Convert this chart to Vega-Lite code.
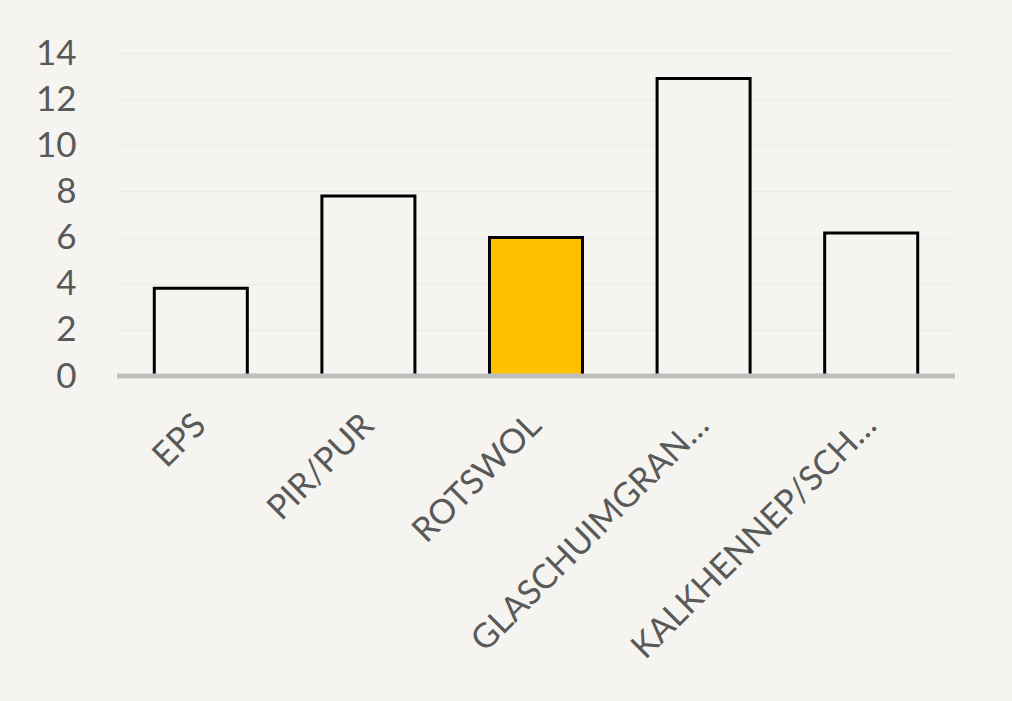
{
  "$schema": "https://vega.github.io/schema/vega-lite/v6.json",
  "autosize": {"type": "none"},
  "padding": {"left": 117, "top": 53, "right": 57, "bottom": 325},
  "width": 838,
  "height": 323,
  "background": "#f5f4f0",
  "data": {
    "values": [
      {"material": "EPS", "value": 3.8, "highlight": "no"},
      {"material": "PIR/PUR", "value": 7.8, "highlight": "no"},
      {"material": "ROTSWOL", "value": 6.0, "highlight": "yes"},
      {"material": "GLASCHUIMGRAN…", "value": 12.9, "highlight": "no"},
      {"material": "KALKHENNEP/SCH…", "value": 6.2, "highlight": "no"}
    ]
  },
  "layer": [
    {
      "mark": {"type": "bar", "stroke": "#000000", "strokeWidth": 3, "strokeJoin": "miter"},
      "encoding": {
        "x": {
          "field": "material",
          "type": "nominal",
          "sort": null,
          "scale": {"paddingInner": 0.445, "paddingOuter": 0.2225},
          "axis": {
            "title": null,
            "labelAngle": -45,
            "labelAlign": "right",
            "labelBaseline": "middle",
            "labelFont": "Lato",
            "labelFontSize": 34,
            "labelColor": "#595959",
            "labelPadding": 44,
            "ticks": false,
            "domain": false,
            "grid": false,
            "labelLimit": 0
          }
        },
        "y": {
          "field": "value",
          "type": "quantitative",
          "scale": {"domain": [0, 14], "nice": false},
          "axis": {
            "title": null,
            "values": [0, 2, 4, 6, 8, 10, 12, 14],
            "labelFont": "Lato",
            "labelFontSize": 35,
            "labelColor": "#595959",
            "labelPadding": 41,
            "ticks": false,
            "domain": false,
            "grid": true,
            "gridColor": "#ebebeb",
            "gridWidth": 1.5
          }
        },
        "fill": {
          "field": "highlight",
          "type": "nominal",
          "scale": {"domain": ["no", "yes"], "range": ["#f5f4f0", "#ffc000"]},
          "legend": null
        }
      }
    },
    {
      "data": {"values": [{"value": 0}]},
      "mark": {"type": "rule", "color": "#bfbfbf", "strokeWidth": 5},
      "encoding": {
        "y": {"field": "value", "type": "quantitative"}
      }
    }
  ],
  "config": {"view": {"stroke": null}}
}
